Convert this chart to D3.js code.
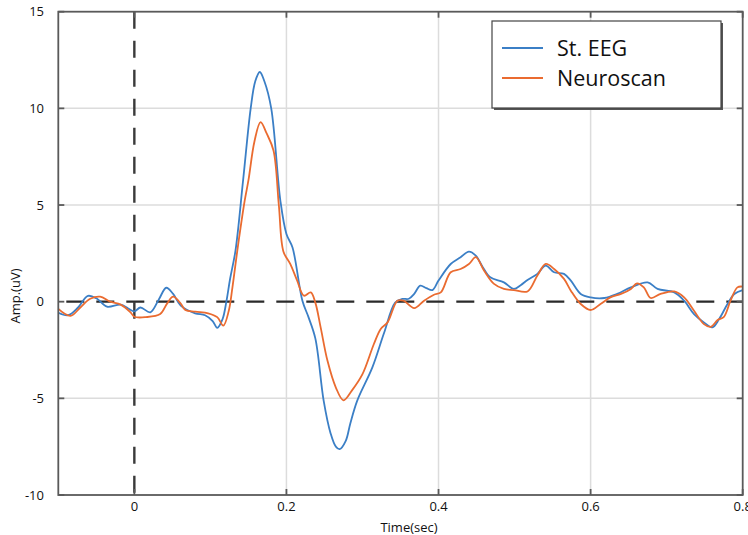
<!DOCTYPE html>
<html>
<head>
<meta charset="utf-8">
<script src="https://cdn.jsdelivr.net/npm/d3@7"></script>
<style>
  html, body { margin: 0; padding: 0; background: #fff; }
  svg { display: block; }
  text { font-family: "Open Sans", "Noto Sans", sans-serif; fill: #111; }
</style>
</head>
<body>
<svg id="chart" width="748" height="535"></svg>
<script>
// ---- data ----
const seriesNames = ["St. EEG", "Neuroscan"];
const stEEGTime = [-0.1,-0.087,-0.074,-0.061,-0.049,-0.036,-0.018,-0.008,0,0.008,0.021,0.032,0.042,0.051,0.061,0.080,0.093,0.103,0.109,0.116,0.121,0.126,0.133,0.143,0.153,0.159,0.165,0.171,0.180,0.192,0.200,0.208,0.221,0.229,0.238,0.249,0.258,0.265,0.270,0.278,0.284,0.293,0.313,0.328,0.343,0.352,0.361,0.368,0.376,0.384,0.392,0.400,0.416,0.429,0.440,0.449,0.458,0.468,0.486,0.499,0.508,0.517,0.530,0.541,0.552,0.565,0.574,0.587,0.600,0.618,0.635,0.653,0.675,0.688,0.710,0.723,0.736,0.749,0.760,0.769,0.780,0.789,0.800];
const stEEGAmp  = [-0.57,-0.7,-0.3,0.3,0.15,-0.26,-0.15,-0.35,-0.5,-0.3,-0.55,0.1,0.72,0.4,-0.2,-0.6,-0.7,-1.0,-1.35,-0.9,0.0,1.2,2.64,6.27,10.0,11.4,11.88,11.4,10.0,5.23,3.5,2.8,0.05,-0.8,-1.9,-5.13,-6.8,-7.5,-7.63,-7.2,-6.3,-5.13,-3.4,-1.66,-0.05,0.14,0.15,0.4,0.83,0.7,0.6,1.09,1.95,2.3,2.59,2.38,1.8,1.26,1.0,0.66,0.85,1.12,1.44,1.87,1.52,1.44,1.09,0.4,0.22,0.19,0.4,0.74,1.0,0.66,0.48,0.05,-0.64,-1.07,-1.33,-0.9,-0.12,0.4,0.6];
const neuroTime = [-0.1,-0.084,-0.071,-0.058,-0.045,-0.032,-0.018,-0.005,0,0.015,0.034,0.043,0.051,0.061,0.067,0.080,0.097,0.109,0.117,0.124,0.129,0.136,0.145,0.150,0.158,0.166,0.174,0.183,0.190,0.196,0.205,0.214,0.223,0.232,0.238,0.245,0.254,0.265,0.275,0.286,0.300,0.315,0.324,0.333,0.346,0.354,0.368,0.381,0.394,0.403,0.416,0.429,0.440,0.449,0.460,0.473,0.486,0.499,0.517,0.530,0.541,0.552,0.565,0.574,0.587,0.600,0.613,0.626,0.640,0.653,0.661,0.670,0.679,0.692,0.710,0.723,0.736,0.749,0.758,0.767,0.775,0.784,0.793,0.800];
const neuroAmp  = [-0.37,-0.73,-0.3,0.15,0.26,0.0,-0.15,-0.55,-0.78,-0.8,-0.64,-0.1,0.26,-0.1,-0.43,-0.52,-0.6,-0.8,-1.24,-0.5,0.74,2.81,5.2,6.27,8.3,9.29,8.7,7.82,5.0,2.6,1.95,1.1,0.31,0.48,-0.05,-1.33,-3.06,-4.44,-5.1,-4.6,-3.75,-2.19,-1.41,-1.07,0.05,0.05,-0.33,0.05,0.36,0.48,1.52,1.69,1.95,2.3,1.6,0.92,0.66,0.6,0.53,1.35,1.95,1.69,1.18,0.57,-0.12,-0.43,-0.12,0.22,0.4,0.66,0.95,0.74,0.19,0.4,0.53,0.22,-0.47,-1.16,-1.3,-0.95,-0.8,0.05,0.74,0.78];
const yTicks = [15, 10, 5, 0, -5, -10];
const xTicks = [0, 0.2, 0.4, 0.6, 0.8];
const xGrid = [0.2, 0.4, 0.6];
const xLabel = "Time(sec)";
const yLabel = "Amp.(uV)";

// ---- layout ----
const colors = ["#3b7fc6", "#ea6b30"];
const svg = d3.select("#chart");
const pLeft = 58.3, pRight = 742.7, pTop = 11.7, pBottom = 495;
const x = d3.scaleLinear().domain([-0.1, 0.8]).range([pLeft, pRight]);
const y = d3.scaleLinear().domain([-10, 15]).range([pBottom, pTop]);

// grid
const grid = svg.append("g");
grid.selectAll("line.hy").data(yTicks.filter(d => d !== 0 && d !== 15 && d !== -10)).join("line")
  .attr("x1", pLeft).attr("x2", pRight).attr("y1", d => y(d)).attr("y2", d => y(d))
  .attr("stroke", "#dcdcdc").attr("stroke-width", 1.5);
grid.selectAll("line.vx").data(xGrid).join("line")
  .attr("x1", d => x(d)).attr("x2", d => x(d)).attr("y1", pTop).attr("y2", pBottom)
  .attr("stroke", "#dcdcdc").attr("stroke-width", 1.5);

// dashed zero lines
svg.append("line").attr("x1", pLeft).attr("x2", pRight).attr("y1", y(0)).attr("y2", y(0))
  .attr("stroke", "#2a2a2a").attr("stroke-width", 2.2).attr("stroke-dasharray", "18,12").attr("stroke-dashoffset", -8);
svg.append("line").attr("x1", x(0)).attr("x2", x(0)).attr("y1", pTop).attr("y2", pBottom)
  .attr("stroke", "#3a3a3a").attr("stroke-width", 2.4).attr("stroke-dasharray", "17,12").attr("stroke-dashoffset", 0);

// series
const line = d3.line().x(d => x(d[0])).y(d => y(d[1])).curve(d3.curveCatmullRom.alpha(0.5));
const data = [d3.zip(stEEGTime, stEEGAmp), d3.zip(neuroTime, neuroAmp)];
[0, 1].forEach(i => {
  svg.append("path").datum(data[i]).attr("d", line)
    .attr("fill", "none").attr("stroke", colors[i]).attr("stroke-width", 1.8)
    .attr("stroke-linejoin", "round");
});

// frame
const frameColor = "#5a5a5a";
svg.append("rect").attr("x", pLeft).attr("y", pTop).attr("width", pRight - pLeft).attr("height", pBottom - pTop)
  .attr("fill", "none").attr("stroke", frameColor).attr("stroke-width", 1.8);

// ticks (inward)
const tk = 6;
const ticksG = svg.append("g").attr("stroke", frameColor).attr("stroke-width", 1.8);
yTicks.forEach(v => {
  ticksG.append("line").attr("x1", pLeft).attr("x2", pLeft + tk).attr("y1", y(v)).attr("y2", y(v));
  ticksG.append("line").attr("x1", pRight).attr("x2", pRight - tk).attr("y1", y(v)).attr("y2", y(v));
});
xTicks.forEach(v => {
  ticksG.append("line").attr("x1", x(v)).attr("x2", x(v)).attr("y1", pBottom).attr("y2", pBottom - tk);
  ticksG.append("line").attr("x1", x(v)).attr("x2", x(v)).attr("y1", pTop).attr("y2", pTop + tk);
});

// tick labels
svg.selectAll("text.yt").data(yTicks).join("text")
  .attr("x", 44).attr("y", d => y(d)).attr("dy", "0.35em").attr("text-anchor", "end")
  .attr("font-size", 13).text(d => d);
svg.selectAll("text.xt").data(xTicks).join("text")
  .attr("x", d => x(d)).attr("y", 506).attr("dy", "0.35em").attr("text-anchor", "middle")
  .attr("font-size", 13).text(d => d);

// axis labels
svg.append("text").attr("x", 409).attr("y", 527).attr("dy", "0.35em").attr("text-anchor", "middle")
  .attr("font-size", 13).text(xLabel);
svg.append("text").attr("transform", "translate(15,296) rotate(-90)").attr("dy", "0.35em")
  .attr("text-anchor", "middle").attr("font-size", 13).text(yLabel);

// legend
const lg = svg.append("g");
lg.append("rect").attr("x", 494).attr("y", 23).attr("width", 229).attr("height", 87).attr("fill", "#555");
lg.append("rect").attr("x", 492).attr("y", 21).attr("width", 229).attr("height", 87)
  .attr("fill", "#fff").attr("stroke", "#444").attr("stroke-width", 1.2);
const ly = [48, 78];
seriesNames.forEach((n, i) => {
  lg.append("line").attr("x1", 502).attr("x2", 543).attr("y1", ly[i]).attr("y2", ly[i])
    .attr("stroke", colors[i]).attr("stroke-width", 2);
  lg.append("text").attr("x", 557).attr("y", ly[i]).attr("dy", "0.36em").attr("font-size", 21.5).text(n);
});
</script>
</body>
</html>
